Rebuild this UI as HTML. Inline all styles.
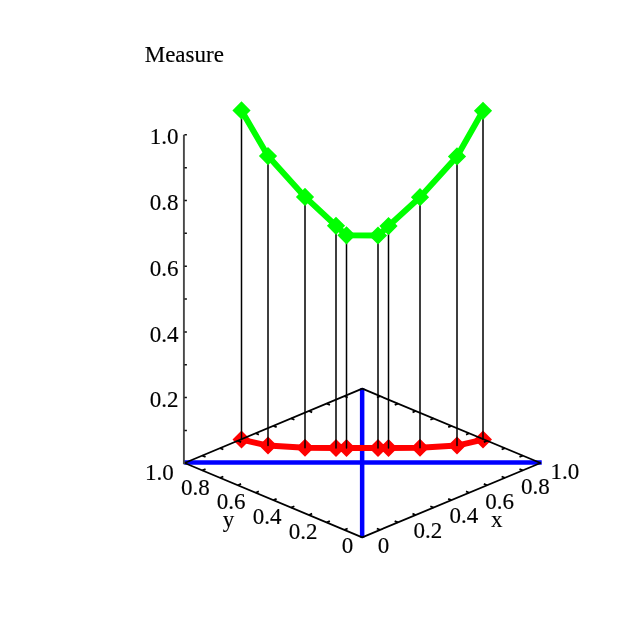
<!DOCTYPE html>
<html><head><meta charset="utf-8"><style>
html,body{margin:0;padding:0;background:#fff;width:640px;height:640px;overflow:hidden}
svg{display:block;will-change:transform}
svg text{font-family:"Liberation Serif",serif;font-size:23px;fill:#000;stroke:#000;stroke-width:0.15px}
</style></head><body>
<svg width="640" height="640" viewBox="0 0 640 640">
<path d="M184.2 462.6H541.7" stroke="#0000ff" stroke-width="4.5" fill="none"/>
<path d="M362.15 388.2V537.8" stroke="#0000ff" stroke-width="4.5" fill="none"/>
<polyline points="241.5,439.6 268,445.6 305,447.7 336,448 346.5,448.1 378,448.1 388.5,448 420,447.7 457,445.6 483,439.6" fill="none" stroke="#ff0000" stroke-width="6" stroke-linejoin="round"/>
<path d="M241.5 430.6L250.5 439.6L241.5 448.6L232.5 439.6ZM268 436.6L277 445.6L268 454.6L259 445.6ZM305 438.7L314 447.7L305 456.7L296 447.7ZM336 439L345 448L336 457L327 448ZM346.5 439.1L355.5 448.1L346.5 457.1L337.5 448.1ZM378 439.1L387 448.1L378 457.1L369 448.1ZM388.5 439L397.5 448L388.5 457L379.5 448ZM420 438.7L429 447.7L420 456.7L411 447.7ZM457 436.6L466 445.6L457 454.6L448 445.6ZM483 430.6L492 439.6L483 448.6L474 439.6Z" fill="#ff0000"/>
<path d="M241.5 439.6V110.4M268 445.6V156.1M305 447.7V196.9M336 448V225.8M346.5 448.1V235.3M378 448.1V235.5M388.5 448V226.1M420 447.7V197.2M457 445.6V156.4M483 439.6V110.8" stroke="#000" stroke-width="1.5" stroke-linecap="round" fill="none"/>
<path d="M362.2 537.3L540.5 463L362.3 388.7L184.6 463Z" stroke="#000" stroke-width="1.8" fill="none" stroke-linejoin="round"/>
<path d="M380.03 529.87L376.83 528.53M344.44 529.87L347.65 528.53M202.37 455.57L205.57 456.91M522.68 455.57L519.47 456.91M397.86 522.44L394.66 521.1M326.68 522.44L329.89 521.1M220.14 448.14L223.34 449.48M504.86 448.14L501.65 449.48M415.69 515.01L412.49 513.67M308.92 515.01L312.13 513.67M237.91 440.71L241.11 442.05M487.04 440.71L483.83 442.05M433.52 507.58L430.32 506.24M291.16 507.58L294.37 506.24M255.68 433.28L258.88 434.62M469.22 433.28L466.01 434.62M451.35 500.15L448.15 498.81M273.4 500.15L276.6 498.81M273.45 425.85L276.65 427.19M451.4 425.85L448.2 427.19M469.18 492.72L465.98 491.38M255.64 492.72L258.84 491.38M291.22 418.42L294.42 419.76M433.58 418.42L430.38 419.76M487.01 485.29L483.81 483.95M237.88 485.29L241.08 483.95M308.99 410.99L312.19 412.33M415.76 410.99L412.56 412.33M504.84 477.86L501.63 476.52M220.12 477.86L223.32 476.52M326.76 403.56L329.97 404.9M397.94 403.56L394.74 404.9M522.67 470.43L519.46 469.09M202.36 470.43L205.56 469.09M344.53 396.13L347.74 397.47M380.12 396.13L376.92 397.47" stroke="#000" stroke-width="1.8" fill="none"/>
<path d="M183.9 464.3V134.8" stroke="#484848" stroke-width="1.9" fill="none"/>
<path d="M184.4 430.45H186.9M184.4 397.6H186.9M184.4 364.75H186.9M184.4 331.9H186.9M184.4 299.05H186.9M184.4 266.2H186.9M184.4 233.35H186.9M184.4 200.5H186.9M184.4 167.65H186.9M184.4 134.8H186.9" stroke="#111" stroke-width="1.5" fill="none"/>
<polyline points="241.5,110.4 268,156.1 305,196.9 336,225.8 346.5,235.3 378,235.5 388.5,226.1 420,197.2 457,156.4 483,110.8" fill="none" stroke="#00ff00" stroke-width="6" stroke-linejoin="round"/>
<path d="M241.5 101.3L250.6 110.4L241.5 119.5L232.4 110.4ZM268 147L277.1 156.1L268 165.2L258.9 156.1ZM305 187.8L314.1 196.9L305 206L295.9 196.9ZM336 216.7L345.1 225.8L336 234.9L326.9 225.8ZM346.5 226.2L355.6 235.3L346.5 244.4L337.4 235.3ZM378 226.4L387.1 235.5L378 244.6L368.9 235.5ZM388.5 217L397.6 226.1L388.5 235.2L379.4 226.1ZM420 188.1L429.1 197.2L420 206.3L410.9 197.2ZM457 147.3L466.1 156.4L457 165.5L447.9 156.4ZM483 101.7L492.1 110.8L483 119.9L473.9 110.8Z" fill="#00ff00"/>
<text x="144.7" y="61.6" text-anchor="start">Measure</text>
<text x="178.4" y="407.2" text-anchor="end">0.2</text>
<text x="178.4" y="341.5" text-anchor="end">0.4</text>
<text x="178.4" y="275.8" text-anchor="end">0.6</text>
<text x="178.4" y="210.1" text-anchor="end">0.8</text>
<text x="178.4" y="144.4" text-anchor="end">1.0</text>
<text x="353.3" y="553.2" text-anchor="end">0</text>
<text x="317.4" y="538.56" text-anchor="end">0.2</text>
<text x="281.5" y="523.92" text-anchor="end">0.4</text>
<text x="245.6" y="509.28" text-anchor="end">0.6</text>
<text x="209.7" y="494.64" text-anchor="end">0.8</text>
<text x="173.8" y="480" text-anchor="end">1.0</text>
<text x="377.8" y="552.8" text-anchor="start">0</text>
<text x="413.6" y="538.1" text-anchor="start">0.2</text>
<text x="449.4" y="523.4" text-anchor="start">0.4</text>
<text x="485.2" y="508.7" text-anchor="start">0.6</text>
<text x="521" y="494" text-anchor="start">0.8</text>
<text x="550.5" y="479.3" text-anchor="start">1.0</text>
<text x="222.8" y="527.2" text-anchor="start">y</text>
<text x="491" y="527.2" text-anchor="start">x</text>
</svg>
</body></html>
